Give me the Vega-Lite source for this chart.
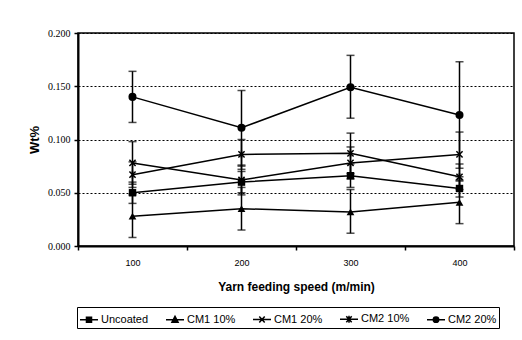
{
  "$schema": "https://vega.github.io/schema/vega-lite/v6.json",
  "autosize": "none",
  "width": 436,
  "height": 213,
  "padding": {"left": 78, "top": 33, "right": 8, "bottom": 94},
  "background": "white",
  "config": {
    "view": {"stroke": "black", "strokeWidth": 1.5},
    "font": "Liberation Sans",
    "legend": {
      "symbolStrokeColor": "black",
      "symbolStrokeWidth": 1.5,
      "symbolOpacity": 1,
      "symbolSize": 324
    }
  },
  "data": {
    "values": [
      {"series": "Uncoated", "speed": "100", "value": 0.050, "lo": 0.040, "hi": 0.060},
      {"series": "Uncoated", "speed": "200", "value": 0.060, "lo": 0.050, "hi": 0.070},
      {"series": "Uncoated", "speed": "300", "value": 0.066, "lo": 0.055, "hi": 0.077},
      {"series": "Uncoated", "speed": "400", "value": 0.054, "lo": 0.046, "hi": 0.062},
      {"series": "CM1 10%", "speed": "100", "value": 0.028, "lo": 0.008, "hi": 0.048},
      {"series": "CM1 10%", "speed": "200", "value": 0.035, "lo": 0.015, "hi": 0.055},
      {"series": "CM1 10%", "speed": "300", "value": 0.032, "lo": 0.012, "hi": 0.053},
      {"series": "CM1 10%", "speed": "400", "value": 0.041, "lo": 0.021, "hi": 0.061},
      {"series": "CM1 20%", "speed": "100", "value": 0.078, "lo": 0.058, "hi": 0.098},
      {"series": "CM1 20%", "speed": "200", "value": 0.062, "lo": 0.048, "hi": 0.076},
      {"series": "CM1 20%", "speed": "300", "value": 0.078, "lo": 0.063, "hi": 0.093},
      {"series": "CM1 20%", "speed": "400", "value": 0.086, "lo": 0.065, "hi": 0.107},
      {"series": "CM2 10%", "speed": "100", "value": 0.067, "lo": 0.055, "hi": 0.079},
      {"series": "CM2 10%", "speed": "200", "value": 0.086, "lo": 0.072, "hi": 0.100},
      {"series": "CM2 10%", "speed": "300", "value": 0.087, "lo": 0.068, "hi": 0.106},
      {"series": "CM2 10%", "speed": "400", "value": 0.065, "lo": 0.053, "hi": 0.077},
      {"series": "CM2 20%", "speed": "100", "value": 0.140, "lo": 0.116, "hi": 0.164},
      {"series": "CM2 20%", "speed": "200", "value": 0.111, "lo": 0.075, "hi": 0.146},
      {"series": "CM2 20%", "speed": "300", "value": 0.149, "lo": 0.120, "hi": 0.179},
      {"series": "CM2 20%", "speed": "400", "value": 0.123, "lo": 0.073, "hi": 0.173}
    ]
  },
  "encoding": {
    "x": {
      "field": "speed",
      "type": "ordinal",
      "sort": ["100", "200", "300", "400"],
      "scale": {"type": "band", "paddingInner": 0, "paddingOuter": 0},
      "axis": {
        "title": "Yarn feeding speed (m/min)",
        "titleFont": "Liberation Sans",
        "titleFontSize": 12,
        "titleFontWeight": "bold",
        "titleColor": "black",
        "titlePadding": 14,
        "labelFont": "Liberation Sans",
        "labelFontSize": 9,
        "labelColor": "black",
        "labelAngle": 0,
        "labelPadding": 8,
        "tickBand": "extent",
        "tickColor": "black",
        "tickSize": 4,
        "tickWidth": 1.5,
        "domainColor": "black",
        "domainWidth": 2,
        "grid": false
      }
    }
  },
  "layer": [
    {
      "mark": {"type": "rule", "color": "black", "strokeWidth": 1.5},
      "encoding": {
        "y": {"field": "lo", "type": "quantitative"},
        "y2": {"field": "hi"}
      }
    },
    {
      "mark": {"type": "tick", "color": "black", "size": 8, "thickness": 1.5},
      "encoding": {
        "y": {"field": "lo", "type": "quantitative"}
      }
    },
    {
      "mark": {"type": "tick", "color": "black", "size": 8, "thickness": 1.5},
      "encoding": {
        "y": {"field": "hi", "type": "quantitative"}
      }
    },
    {
      "mark": {"type": "line", "color": "black", "strokeWidth": 1.5},
      "encoding": {
        "y": {
          "field": "value",
          "type": "quantitative",
          "scale": {"domain": [0, 0.2]},
          "axis": {
            "title": "Wt%",
            "titleFont": "Liberation Sans",
            "titleFontSize": 13,
            "titleFontWeight": "bold",
            "titleColor": "black",
            "titlePadding": 6,
            "values": [0, 0.05, 0.1, 0.15, 0.2],
            "format": ".3f",
            "labelFont": "Liberation Serif",
            "labelFontSize": 10,
            "labelColor": "black",
            "labelPadding": 4,
            "tickColor": "black",
            "tickSize": 4,
            "tickWidth": 1.5,
            "domainColor": "black",
            "domainWidth": 2,
            "grid": true,
            "gridColor": "black",
            "gridDash": [2, 2],
            "gridWidth": 1.2
          }
        },
        "detail": {"field": "series"}
      }
    },
    {
      "transform": [{"filter": "datum.series === 'Uncoated'"}],
      "mark": {"type": "point", "shape": "square", "filled": true, "color": "black", "opacity": 1, "size": 55},
      "encoding": {"y": {"field": "value", "type": "quantitative"}}
    },
    {
      "transform": [{"filter": "datum.series === 'CM1 10%'"}],
      "mark": {"type": "point", "shape": "triangle-up", "filled": true, "color": "black", "opacity": 1, "size": 60},
      "encoding": {"y": {"field": "value", "type": "quantitative"}}
    },
    {
      "transform": [{"filter": "datum.series === 'CM1 20%'"}],
      "mark": {"type": "point", "shape": "M-0.8,-0.8L0.8,0.8M-0.8,0.8L0.8,-0.8", "filled": false, "color": "black", "strokeWidth": 1.5, "opacity": 1, "size": 60},
      "encoding": {"y": {"field": "value", "type": "quantitative"}}
    },
    {
      "transform": [{"filter": "datum.series === 'CM2 10%'"}],
      "mark": {"type": "point", "shape": "M-0.8,-0.8L0.8,0.8M-0.8,0.8L0.8,-0.8M0,-1V1", "filled": false, "color": "black", "strokeWidth": 1.5, "opacity": 1, "size": 60},
      "encoding": {"y": {"field": "value", "type": "quantitative"}}
    },
    {
      "transform": [{"filter": "datum.series === 'CM2 20%'"}],
      "mark": {"type": "point", "shape": "circle", "filled": true, "color": "black", "opacity": 1, "size": 65},
      "encoding": {"y": {"field": "value", "type": "quantitative"}}
    },
    {
      "mark": {"type": "point", "filled": false, "color": "black", "strokeWidth": 1.5, "opacity": 0, "size": 10},
      "encoding": {
        "y": {"field": "value", "type": "quantitative"},
        "shape": {
          "field": "series",
          "type": "nominal",
          "scale": {
            "domain": ["Uncoated", "CM1 10%", "CM1 20%", "CM2 10%", "CM2 20%"],
            "range": [
              "M-1,0H1M-0.28,-0.28H0.28V0.28H-0.28ZM-0.28,-0.14H0.28M-0.28,0.14H0.28",
              "M-1,0H1M0,-0.36L0.34,0.3H-0.34ZM0,-0.36V0.3M-0.17,-0.03H0.17M-0.25,0.14H0.25",
              "M-1,0H1M-0.3,-0.33L0.3,0.33M-0.3,0.33L0.3,-0.33",
              "M-1,0H1M-0.3,-0.33L0.3,0.33M-0.3,0.33L0.3,-0.33M0,-0.38V0.38",
              "M-1,0H1M0.3,0A0.3,0.3 0 1,1 -0.3,0A0.3,0.3 0 1,1 0.3,0ZM0.15,0A0.15,0.15 0 1,1 -0.15,0A0.15,0.15 0 1,1 0.15,0Z"
            ]
          },
          "legend": {
            "title": null,
            "orient": "none",
            "legendX": -1,
            "legendY": 274,
            "direction": "horizontal",
            "columns": 5,
            "strokeColor": "black",
            "padding": 2,
            "symbolSize": 324,
            "labelFont": "Liberation Sans",
            "labelFontSize": 11,
            "labelColor": "black",
            "labelOffset": 2,
            "columnPadding": 14,
            "symbolStrokeColor": "black",
            "symbolStrokeWidth": 1.5,
            "symbolOpacity": 1
          }
        }
      }
    }
  ]
}
